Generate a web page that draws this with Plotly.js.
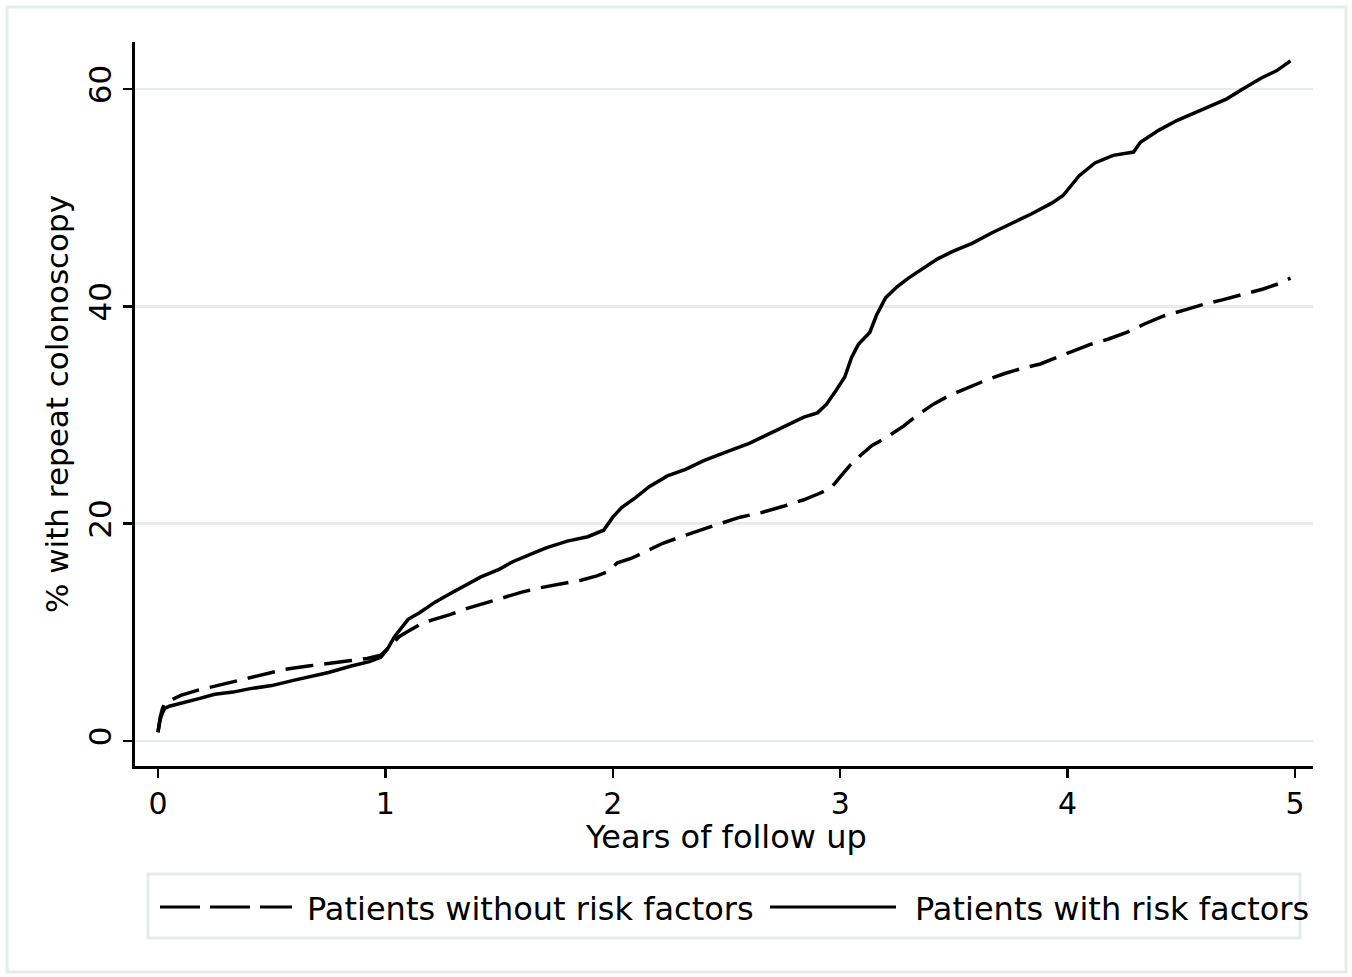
<!DOCTYPE html>
<html>
<head>
<meta charset="utf-8">
<script src="https://cdn.plot.ly/plotly-3.0.1.min.js"></script>
<style>html,body{margin:0;padding:0;background:#fff;}#chart{width:1352px;height:977px;}</style>
</head>
<body>
<div id="chart"></div>
<script>
// ---- Data ----
const withoutYears = [0,0.005,0.01,0.02,0.03,0.06,0.1,0.18,0.26,0.33,0.4,0.48,0.56,0.66,0.75,0.85,0.92,0.98,1.02,1.06,1.1,1.15,1.2,1.28,1.36,1.44,1.52,1.6,1.68,1.76,1.86,1.93,1.98,2.02,2.08,2.15,2.22,2.3,2.38,2.47,2.56,2.65,2.75,2.84,2.91,2.96,3.0,3.04,3.09,3.14,3.2,3.28,3.34,3.41,3.48,3.56,3.64,3.72,3.8,3.88,3.95,4.02,4.1,4.18,4.26,4.34,4.42,4.52,4.6,4.68,4.77,4.86,4.93,4.98];
const withoutPct = [0.8,1.6,2.2,3.0,3.5,3.8,4.2,4.7,5.1,5.5,5.8,6.2,6.6,6.9,7.1,7.4,7.6,7.9,8.7,9.6,10.1,10.7,11.1,11.6,12.2,12.7,13.2,13.7,14.1,14.4,14.8,15.2,15.6,16.4,16.8,17.5,18.2,18.8,19.4,20.0,20.6,21.0,21.6,22.2,22.8,23.3,24.3,25.3,26.3,27.2,27.9,29.0,30.0,31.0,31.8,32.5,33.2,33.8,34.3,34.7,35.3,35.9,36.5,37.0,37.6,38.4,39.1,39.7,40.2,40.6,41.1,41.6,42.1,42.6];

const withYears = [0,0.005,0.01,0.02,0.03,0.05,0.1,0.18,0.25,0.33,0.4,0.5,0.6,0.67,0.75,0.85,0.93,0.98,1.01,1.04,1.07,1.1,1.15,1.22,1.28,1.35,1.42,1.5,1.56,1.64,1.71,1.8,1.89,1.96,2.0,2.04,2.1,2.16,2.24,2.32,2.4,2.5,2.6,2.68,2.76,2.84,2.9,2.94,2.98,3.02,3.05,3.08,3.13,3.16,3.2,3.25,3.3,3.37,3.43,3.5,3.58,3.67,3.75,3.84,3.93,3.98,4.05,4.12,4.2,4.29,4.32,4.4,4.48,4.56,4.62,4.7,4.77,4.85,4.92,4.98];
const withPct = [0.8,1.5,2.0,2.6,3.0,3.2,3.5,3.9,4.3,4.5,4.8,5.1,5.6,5.9,6.3,6.9,7.3,7.7,8.5,9.6,10.4,11.2,11.8,12.8,13.5,14.3,15.1,15.8,16.5,17.2,17.8,18.4,18.8,19.4,20.6,21.5,22.4,23.4,24.4,25.0,25.8,26.6,27.4,28.2,29.0,29.8,30.2,31.0,32.2,33.5,35.3,36.5,37.6,39.2,40.8,41.8,42.6,43.6,44.4,45.1,45.8,46.8,47.6,48.5,49.5,50.2,52.0,53.2,53.9,54.2,55.1,56.2,57.1,57.8,58.4,59.1,60.0,61.0,61.7,62.6];

const xTicks = [0,1,2,3,4,5];
const yTicks = [0,20,40,60];
const seriesNames = ['Patients without risk factors','Patients with risk factors'];
const xTitle = 'Years of follow up';
const yTitle = '% with repeat colonoscopy';

// ---- Layout geometry ----
const W = 1352, H = 977;
const M = {l:135, r:39, t:42, b:211};
const PW = W - M.l - M.r, PH = H - M.t - M.b;
const px = x => (x - M.l) / PW;
const py = y => (H - M.b - y) / PH;
const FONT = 'DejaVu Sans, Verdana, sans-serif';
const FRAME = '#e4eced';

const traces = [
  {x: withoutYears, y: withoutPct, name: seriesNames[0], type: 'scatter', mode: 'lines',
   line: {color: '#000', width: 3.5, shape: 'linear', dash: '28px,11px'}, showlegend: false},
  {x: withYears, y: withPct, name: seriesNames[1], type: 'scatter', mode: 'lines',
   line: {color: '#000', width: 3.5, shape: 'linear'}, showlegend: false}
];

const legY = py(907);
const layout = {
  width: W, height: H,
  margin: {l: M.l, r: M.r, t: M.t, b: M.b, pad: 0},
  paper_bgcolor: '#fff', plot_bgcolor: '#fff',
  font: {family: FONT, color: '#000', size: 30},
  showlegend: false,
  xaxis: {
    range: [-0.101, 5.079], tickvals: xTicks, ticktext: xTicks.map(String),
    ticks: 'outside', ticklen: 9, tickwidth: 2.5, tickcolor: '#000',
    showline: true, linewidth: 3, linecolor: '#000',
    showgrid: false, zeroline: false,
    tickfont: {family: FONT, size: 30},
    title: {text: ''}
  },
  yaxis: {
    range: [-2.3, 64.33], tickvals: yTicks, ticktext: yTicks.map(String), tickangle: -90,
    ticks: 'outside', ticklen: 9, tickwidth: 2.5, tickcolor: '#000',
    showline: true, linewidth: 3, linecolor: '#000',
    showgrid: true, gridcolor: '#e4eced', gridwidth: 2.5, zeroline: false,
    tickfont: {family: FONT, size: 31},
    title: {text: yTitle, font: {family: FONT, size: 31}, standoff: 4}
  },
  shapes: [
    // outer frame
    {type: 'rect', xref: 'paper', yref: 'paper', x0: px(7), x1: px(1346), y0: py(972), y1: py(7),
     line: {color: FRAME, width: 3}, layer: 'below'},
    // legend box
    {type: 'rect', xref: 'paper', yref: 'paper', x0: px(148), x1: px(1300), y0: py(938), y1: py(874),
     line: {color: FRAME, width: 3}},
    // legend samples
    {type: 'line', xref: 'paper', yref: 'paper', x0: px(160), x1: px(292), y0: legY, y1: legY,
     line: {color: '#000', width: 3, dash: '40px,10px'}},
    {type: 'line', xref: 'paper', yref: 'paper', x0: px(770), x1: px(896), y0: legY, y1: legY,
     line: {color: '#000', width: 3}}
  ],
  annotations: [
    // x axis title (placed close under the tick labels, as in the reference)
    {xref: 'paper', yref: 'paper', x: px(726), y: py(837), xanchor: 'center', yanchor: 'middle',
     text: xTitle, showarrow: false, font: {family: FONT, size: 32, color: '#000'}},
    {xref: 'paper', yref: 'paper', x: px(305), y: py(909), xanchor: 'left', yanchor: 'middle',
     text: seriesNames[0], showarrow: false, font: {family: FONT, size: 32, color: '#000'}},
    {xref: 'paper', yref: 'paper', x: px(913), y: py(909), xanchor: 'left', yanchor: 'middle',
     text: seriesNames[1], showarrow: false, font: {family: FONT, size: 32, color: '#000'}}
  ]
};

Plotly.newPlot('chart', traces, layout, {staticPlot: true, displayModeBar: false});
</script>
</body>
</html>
